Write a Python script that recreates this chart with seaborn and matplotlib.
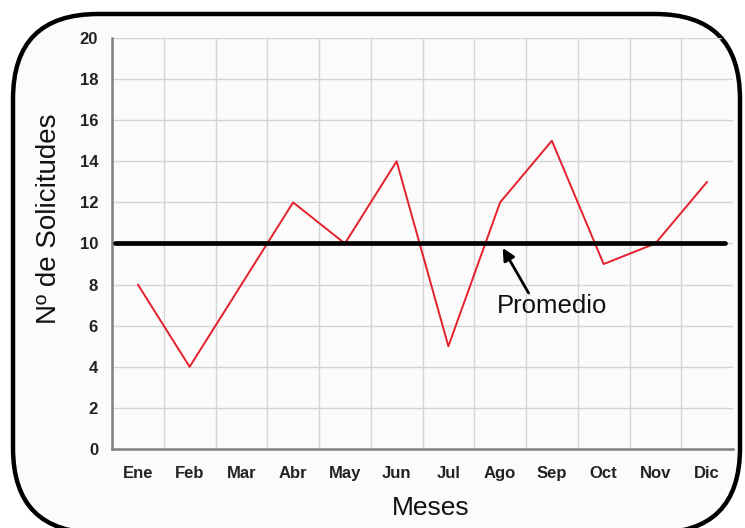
import matplotlib
matplotlib.use("Agg")
import matplotlib.pyplot as plt
from matplotlib.patches import FancyBboxPatch
from matplotlib.ticker import MultipleLocator, FixedLocator
import numpy as np
import pandas as pd
import seaborn as sns

meses = ["Ene", "Feb", "Mar", "Abr", "May", "Jun", "Jul", "Ago", "Sep", "Oct", "Nov", "Dic"]
solicitudes = [8, 4, 8, 12, 10, 14, 5, 12, 15, 9, 10, 13]
promedio = 10

df = pd.DataFrame({"mes": meses, "solicitudes": solicitudes})
df["pos"] = np.arange(len(meses))

sns.set_style("white")
plt.rcParams["font.family"] = ["Liberation Sans", "DejaVu Sans"]

fig = plt.figure(figsize=(7.45, 5.28), dpi=100)
fig.patch.set_facecolor("white")

# rounded frame around the whole chart (inch coordinates); bottom edge runs off the canvas
frame = FancyBboxPatch((0.13, -0.05), 7.40 - 0.13, 5.14 + 0.05,
                       boxstyle="round,pad=0,rounding_size=0.85",
                       transform=fig.dpi_scale_trans, facecolor="#fbfbfb",
                       edgecolor="black", linewidth=3.2, zorder=-1)
fig.patches.append(frame)

W, H = 745, 528
ax = fig.add_axes([112 / W, 1 - 449 / H, (733 - 112) / W, (449 - 38) / H])
ax.set_facecolor("none")

sns.lineplot(data=df, x="pos", y="solicitudes", ax=ax, color="#e4202c",
             linewidth=1.4, zorder=3)

ax.axhline(promedio, xmin=0.005, xmax=0.987, color="black", linewidth=3.4, zorder=4)

ax.set_xlim(-0.5, len(meses) - 0.5)
ax.set_ylim(0, 20)

ax.yaxis.set_major_locator(MultipleLocator(2))
ax.set_xticks(df["pos"])
ax.set_xticklabels(meses)
limites = np.arange(-0.5, len(meses) - 1, 1.0)
ax.xaxis.set_minor_locator(FixedLocator(limites))

ax.tick_params(axis="x", which="major", length=0, pad=12, labelsize=12)
ax.tick_params(axis="x", which="minor", length=5, width=1.2, color="#808080", direction="out")
ax.tick_params(axis="y", which="major", length=5, width=1.2, color="#808080",
               direction="out", pad=5, labelsize=12)
for lbl in ax.get_xticklabels() + ax.get_yticklabels():
    lbl.set_fontweight("bold")
    lbl.set_color("#222222")

# grid drawn as line collections, clipped to the rounded frame
ax.grid(False)
niveles = np.arange(2, 21, 2)
hg = ax.hlines(niveles, -0.5, len(meses) - 0.5, color="#d4d4d4", linewidth=1.0, zorder=0)
vg = ax.vlines(limites[1:], 0, 20, color="#d4d4d4", linewidth=1.0, zorder=0)
for coll in (hg, vg):
    coll.set_clip_on(True)
    coll.set_clip_path(frame)

for side in ["top", "right"]:
    ax.spines[side].set_visible(False)
for side in ["left", "bottom"]:
    ax.spines[side].set_color("#808080")
    ax.spines[side].set_linewidth(1.8)

ax.set_xlabel("Meses", fontsize=19, color="#111111")
ax.set_ylabel("Nº de Solicitudes", fontsize=20, color="#111111")
ax.xaxis.set_label_coords(0.513, -0.115)
ax.yaxis.set_label_coords(-0.08, 0.56)

# label and arrow pointing at the average line
ax.text(8.01, 6.96, "Promedio", ha="center", va="center", fontsize=18.5,
        color="#111111", zorder=5)
ax.annotate("", xy=(7.05, 9.78), xytext=(7.55, 7.59),
            arrowprops=dict(arrowstyle="-|>", color="black", lw=2.0,
                            mutation_scale=18, shrinkA=0, shrinkB=0),
            zorder=5)

fig.savefig("out.png", dpi=100)
